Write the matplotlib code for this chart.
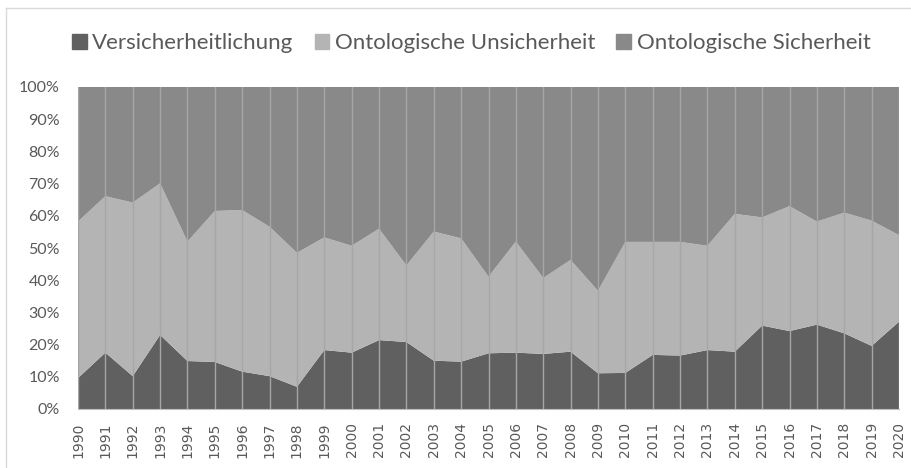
import numpy as np
import matplotlib
matplotlib.use('Agg')
import matplotlib.pyplot as plt
from matplotlib.lines import Line2D
from matplotlib.ticker import PercentFormatter

years = list(range(1990, 2021))

# Shares (percent)
versicherheitlichung = [9.6, 17.5, 10.2, 23.0, 14.9, 14.6, 11.6, 10.2, 6.9, 18.3,
                        17.5, 21.4, 20.8, 15.0, 14.7, 17.3, 17.5, 17.1, 17.8, 11.1,
                        11.2, 16.8, 16.6, 18.3, 17.8, 25.9, 24.2, 26.2, 23.5, 19.6,
                        27.1]
ontologische_unsicherheit = [48.6, 48.6, 53.9, 47.1, 37.1, 46.9, 50.2, 46.4, 41.6, 35.0,
                             33.2, 34.6, 23.8, 40.1, 38.3, 23.8, 34.5, 23.6, 28.5, 25.6,
                             40.7, 35.1, 35.3, 32.4, 42.8, 33.6, 38.8, 32.0, 37.5, 38.9,
                             26.9]
ontologische_sicherheit = [41.8, 33.9, 35.9, 29.9, 48.0, 38.5, 38.2, 43.4, 51.5, 46.7,
                           49.3, 44.0, 55.4, 44.9, 47.0, 58.9, 48.0, 59.3, 53.7, 63.3,
                           48.1, 48.1, 48.1, 49.3, 39.4, 40.5, 37.0, 41.8, 39.0, 41.5,
                           46.0]

labels = ['Versicherheitlichung', 'Ontologische Unsicherheit', 'Ontologische Sicherheit']
colors = ['#606060', '#b4b4b4', '#898989']

plt.rcParams['font.family'] = ['Lato', 'DejaVu Sans']

data = np.array([versicherheitlichung, ontologische_unsicherheit, ontologische_sicherheit])
data = data / data.sum(axis=0) * 100

fig = plt.figure(figsize=(9.12, 4.68), dpi=100)
ax = fig.add_axes([78 / 912, 1 - 409 / 468, (899 - 78) / 912, (409 - 87) / 468])

ax.stackplot(years, data, colors=colors, labels=labels, linewidth=0)

# vertical lines at each year drawn over the areas
for y in years:
    ax.axvline(y, color='#a6a6a6', linewidth=1.0, zorder=3)

ax.set_xlim(years[0], years[-1])
ax.set_ylim(0, 100)
ax.set_yticks(np.arange(0, 101, 10))
ax.yaxis.set_major_formatter(PercentFormatter(decimals=0))
ax.set_xticks(years)
ax.set_xticklabels([str(y) for y in years], rotation=90, family='DejaVu Sans', fontsize=10)
ax.tick_params(axis='both', length=0, colors='#595959')
ax.tick_params(axis='y', pad=13, labelsize=11.5)
ax.tick_params(axis='x', pad=9.5)

for side in ['top', 'right', 'left']:
    ax.spines[side].set_visible(False)
ax.spines['bottom'].set_color('#bfbfbf')
ax.spines['bottom'].set_zorder(4)

handles = [plt.Rectangle((0, 0), 1, 1, color=c) for c in colors]
fig.legend(handles, labels, loc='center left', bbox_to_anchor=(72 / 912, 1 - 43 / 468), ncol=3,
           frameon=False, fontsize=16, handlelength=0.66, handleheight=0.66,
           handletextpad=0.25, columnspacing=0.95, borderpad=0, borderaxespad=0,
           labelcolor='#595959')

# chart border (left and top edges visible)
fig.add_artist(Line2D([6 / 912, 6 / 912], [0, 1 - 8 / 468], color='#d9d9d9', linewidth=1))
fig.add_artist(Line2D([6 / 912, 1], [1 - 8 / 468, 1 - 8 / 468], color='#d9d9d9', linewidth=1))

fig.savefig('out.png', dpi=100)
